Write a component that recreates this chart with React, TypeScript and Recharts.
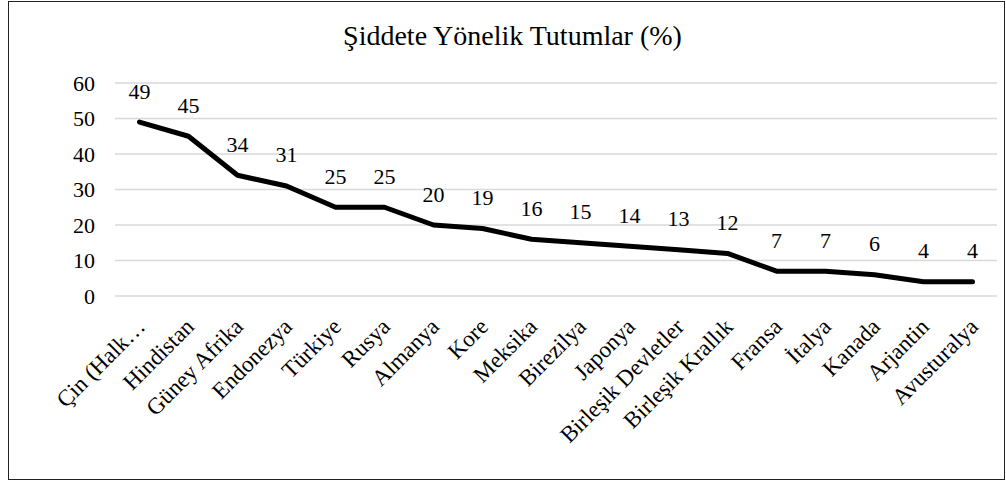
import React from "react";
import { LineChart, Line, XAxis, YAxis, CartesianGrid, LabelList } from "recharts";

const countries = [
  "Çin (Halk…",
  "Hindistan",
  "Güney Afrika",
  "Endonezya",
  "Türkiye",
  "Rusya",
  "Almanya",
  "Kore",
  "Meksika",
  "Birezilya",
  "Japonya",
  "Birleşik Devletler",
  "Birleşik Krallık",
  "Fransa",
  "İtalya",
  "Kanada",
  "Arjantin",
  "Avusturalya",
];

const values = [49, 45, 34, 31, 25, 25, 20, 19, 16, 15, 14, 13, 12, 7, 7, 6, 4, 4];

const yTicks = [0, 10, 20, 30, 40, 50, 60];

const title = "Şiddete Yönelik Tutumlar (%)";

const FONT = "Liberation Serif";

const data = countries.map((name, i) => ({ name, value: values[i] }));

// rotated country names, end of text sits just right of the category
const CountryTick = (props: any) => {
  const { x, y, payload } = props;
  const tx = x + 7;
  const ty = y + 32;
  return (
    <text
      x={tx}
      y={ty}
      transform={`rotate(-45, ${tx}, ${ty})`}
      textAnchor="end"
      style={{ fontFamily: FONT, fontSize: 23 }}
      fill="#000"
    >
      {payload.value}
    </text>
  );
};

const ValueTick = (props: any) => {
  const { x, y, payload } = props;
  return (
    <text
      x={x - 2}
      y={y}
      textAnchor="end"
      dominantBaseline="central"
      style={{ fontFamily: FONT, fontSize: 22 }}
      fill="#000"
    >
      {payload.value}
    </text>
  );
};

const ValueLabel = (props: any) => {
  const { x, y, value } = props;
  return (
    <text
      x={x}
      y={y - 31}
      textAnchor="middle"
      dominantBaseline="central"
      style={{ fontFamily: FONT, fontSize: 22 }}
      fill="#000"
    >
      {value}
    </text>
  );
};

export default function App() {
  return (
    <div
      style={{
        position: "absolute",
        left: 8,
        top: 1,
        width: 997,
        height: 479,
        border: "1px solid #222",
        boxSizing: "border-box",
        background: "#fff",
        fontFamily: FONT,
      }}
    >
      <div
        style={{
          position: "absolute",
          left: 0,
          right: 0,
          top: 20,
          textAlign: "center",
          paddingLeft: 12,
          fontSize: 28,
          lineHeight: 1,
          color: "#000",
          whiteSpace: "nowrap",
        }}
      >
        {title}
      </div>
      <LineChart
        width={995}
        height={477}
        data={data}
        margin={{ top: 81, right: 7, bottom: 0, left: 0 }}
        style={{ fontFamily: FONT }}
      >
        <CartesianGrid vertical={false} stroke="#d9d9d9" strokeWidth={1.3} />
        <XAxis
          dataKey="name"
          height={183}
          interval={0}
          axisLine={false}
          tickLine={false}
          tickSize={0}
          tickMargin={0}
          padding={{ left: 24.5, right: 24.5 }}
          tick={<CountryTick />}
        />
        <YAxis
          width={106}
          domain={[0, 60]}
          ticks={yTicks}
          axisLine={false}
          tickLine={false}
          tickSize={0}
          tickMargin={18}
          tick={<ValueTick />}
        />
        <Line
          type="linear"
          dataKey="value"
          stroke="#000"
          strokeWidth={5}
          strokeLinecap="round"
          strokeLinejoin="round"
          dot={false}
          activeDot={false}
          isAnimationActive={false}
        >
          <LabelList dataKey="value" content={<ValueLabel />} />
        </Line>
      </LineChart>
    </div>
  );
}
